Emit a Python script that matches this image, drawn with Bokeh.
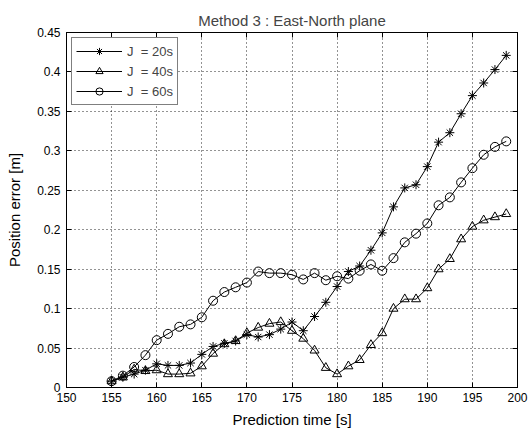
from bokeh.plotting import figure
from bokeh.models import Range1d, FixedTicker, LinearAxis, CustomJSTickFormatter, Legend
from bokeh.embed import file_html
from bokeh.resources import INLINE

# ---- data ----
time_s = [155.0, 156.25, 157.5, 158.75, 160.0, 161.25, 162.5, 163.75, 165.0, 166.25,
          167.5, 168.75, 170.0, 171.25, 172.5, 173.75, 175.0, 176.25, 177.5, 178.75,
          180.0, 181.25, 182.5, 183.75, 185.0, 186.25, 187.5, 188.75, 190.0, 191.25,
          192.5, 193.75, 195.0, 196.25, 197.5, 198.75]

err_J20 = [0.008, 0.013, 0.017, 0.022, 0.030, 0.028, 0.028, 0.031, 0.042, 0.052,
           0.056, 0.059, 0.067, 0.064, 0.067, 0.074, 0.083, 0.072, 0.090, 0.108,
           0.128, 0.147, 0.154, 0.174, 0.196, 0.229, 0.253, 0.257, 0.280, 0.311,
           0.323, 0.347, 0.370, 0.386, 0.403, 0.421]

err_J40 = [0.008, 0.013, 0.023, 0.021, 0.022, 0.017, 0.017, 0.018, 0.027, 0.043,
           0.055, 0.059, 0.069, 0.076, 0.081, 0.083, 0.072, 0.062, 0.047, 0.025,
           0.017, 0.027, 0.035, 0.054, 0.069, 0.100, 0.112, 0.112, 0.126, 0.150,
           0.163, 0.188, 0.204, 0.212, 0.216, 0.220]

err_J60 = [0.008, 0.015, 0.026, 0.041, 0.060, 0.068, 0.077, 0.080, 0.089, 0.110,
           0.121, 0.127, 0.133, 0.147, 0.145, 0.145, 0.143, 0.137, 0.145, 0.136,
           0.141, 0.138, 0.148, 0.156, 0.148, 0.164, 0.184, 0.195, 0.208, 0.231,
           0.241, 0.260, 0.278, 0.295, 0.305, 0.312]

series_labels = ["J  = 20s", "J  = 40s", "J  = 60s"]
x_ticks = [150, 155, 160, 165, 170, 175, 180, 185, 190, 195, 200]
y_ticks = [0, 0.05, 0.1, 0.15, 0.2, 0.25, 0.3, 0.35, 0.4, 0.45]

FONT = "Liberation Sans"

p = figure(width=528, height=436, output_backend="svg", toolbar_location=None,
           x_range=Range1d(150, 200), y_range=Range1d(0, 0.45),
           min_border_left=66, min_border_right=11, min_border_top=32, min_border_bottom=49,
           title="Method 3 : East-North plane")
p.background_fill_color = "white"
p.border_fill_color = "white"
p.outline_line_color = "black"
p.outline_line_width = 1

p.title.text_font = FONT
p.title.text_font_size = "15px"
p.title.text_font_style = "normal"
p.title.align = "center"
p.title.standoff = 8

fmt = CustomJSTickFormatter(code="""
var s = tick.toFixed(2);
s = s.replace(/0+$/, '').replace(/\\.$/, '');
return s;
""")
blank = CustomJSTickFormatter(code="return '';")

def style_axis(ax, labels=True):
    ax.axis_line_color = "black"
    ax.major_tick_in = 5
    ax.major_tick_out = 0
    ax.minor_tick_in = 0
    ax.minor_tick_out = 0
    ax.major_tick_line_color = "black"
    ax.major_label_text_font = FONT
    ax.major_label_text_font_size = "12px"
    ax.major_label_text_color = "black"
    ax.axis_label_text_font = FONT
    ax.axis_label_text_font_size = "15px"
    ax.axis_label_text_font_style = "normal"
    ax.axis_label_text_color = "black"
    if not labels:
        ax.formatter = blank
        ax.major_label_text_font_size = "0px"
        ax.major_label_text_color = None
        ax.major_label_standoff = 0

p.xaxis.ticker = FixedTicker(ticks=x_ticks)
p.yaxis.ticker = FixedTicker(ticks=y_ticks)
p.yaxis.formatter = fmt
p.xaxis.axis_label = "Prediction time [s]"
p.yaxis.axis_label = "Position error [m]"
style_axis(p.xaxis[0])
style_axis(p.yaxis[0])
p.xaxis.major_label_standoff = 5
p.yaxis.major_label_standoff = 6
p.xaxis.axis_label_standoff = 6
p.yaxis.axis_label_standoff = 11

top_ax = LinearAxis(ticker=FixedTicker(ticks=x_ticks))
style_axis(top_ax, labels=False)
p.add_layout(top_ax, "above")
right_ax = LinearAxis(ticker=FixedTicker(ticks=y_ticks))
style_axis(right_ax, labels=False)
p.add_layout(right_ax, "right")

for g in (p.xgrid[0], p.ygrid[0]):
    g.grid_line_color = "black"
    g.grid_line_dash = "1 3"
    g.grid_line_alpha = 0.85
p.xgrid.ticker = FixedTicker(ticks=x_ticks)
p.ygrid.ticker = FixedTicker(ticks=y_ticks)

markers = ["asterisk", "triangle", "circle"]
sizes = [9, 9, 9]
series = [err_J20, err_J40, err_J60]
items = []
for lab, ys, mk, sz in zip(series_labels, series, markers, sizes):
    r1 = p.line(time_s, ys, line_color="black", line_width=1)
    r2 = p.scatter(time_s, ys, marker=mk, size=sz, line_color="black",
                   fill_color=None, line_width=1)
    items.append((lab, [r1, r2]))

legend = Legend(items=items, location="top_left")
legend.margin = 5
legend.padding = 4
legend.spacing = 2
legend.glyph_width = 46
legend.glyph_height = 18
legend.label_height = 18
legend.label_standoff = 5
legend.label_text_font = FONT
legend.label_text_font_size = "13px"
legend.border_line_color = "black"
legend.border_line_width = 1
legend.background_fill_color = "white"
legend.background_fill_alpha = 1
p.add_layout(legend, "center")

open("out.html", "w").write(file_html(p, INLINE))
